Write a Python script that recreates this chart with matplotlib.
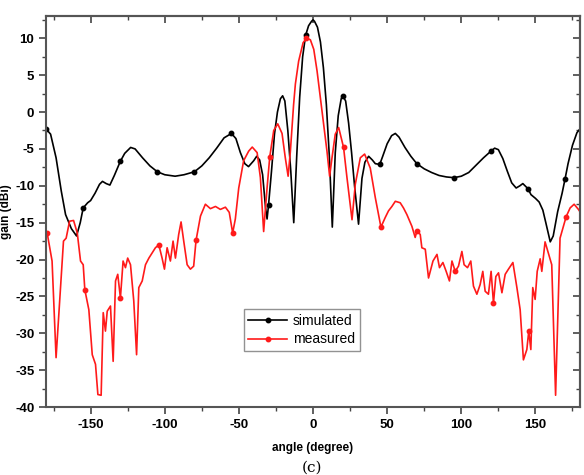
import numpy as np
import matplotlib
matplotlib.use('Agg')
import matplotlib.pyplot as plt
from matplotlib.ticker import MultipleLocator

plt.rcParams['font.family'] = ['Liberation Sans', 'DejaVu Sans']
plt.rcParams['axes.unicode_minus'] = False

# simulated gain pattern (degree, dBi)
sim_angle = [-180, -177, -173.3, -169.8, -166.9, -163, -159.5, -157, -155, -152,
             -150, -147, -144, -142, -139.5, -137, -134, -130, -127, -123,
             -120, -115, -110, -105, -100, -93, -87, -80, -75, -70,
             -65, -60, -55, -52, -49, -46, -43.5, -40, -38, -36,
             -34, -32, -31, -30, -28, -26, -24, -22, -20.5, -19,
             -17, -15, -13, -11, -9, -7, -5, -3, -1, 0,
             1, 3, 5, 7, 9, 11, 13, 15, 17, 19,
             20, 22, 24, 26, 28, 30.7, 33, 35, 37.5, 40,
             42, 45, 47, 50, 53, 55.5, 58, 62, 66, 70,
             75, 80, 85, 90, 95, 100, 105, 110, 115, 120,
             122.5, 125, 128, 131, 134, 137, 139.5, 141.5, 145, 147,
             150, 152.5, 155, 157, 160, 162, 165, 168, 170, 172,
             175, 178, 180]
sim_gain = [-2.3, -3.0, -6.2, -10.7, -13.9, -15.8, -16.8, -15.0, -13.0, -12.3,
            -12.0, -11.0, -9.8, -9.4, -9.7, -9.9, -8.6, -6.7, -5.6, -4.8,
            -5.0, -6.2, -7.3, -8.1, -8.5, -8.7, -8.5, -8.1, -7.3, -6.2,
            -4.9, -3.5, -2.9, -3.6, -5.5, -7.0, -7.4, -6.6, -6.0, -6.5,
            -8.5, -13.0, -14.5, -12.6, -8.0, -3.0, 0.0, 1.8, 2.2, 1.5,
            -2.5, -8.0, -15.0, -6.0, 2.0, 7.5, 10.4, 11.7, 12.3, 12.5,
            12.3, 11.5, 9.5, 6.0, 1.0, -6.0, -15.6, -5.5, -0.5, 1.8,
            2.2, 1.5, -1.5, -5.5, -10.0, -15.2, -9.0, -6.8, -6.0, -6.5,
            -7.0, -7.1, -6.0, -4.3, -3.2, -2.9, -3.4, -4.8, -6.0, -7.0,
            -7.7, -8.2, -8.6, -8.8, -8.9, -8.7, -8.2, -7.2, -6.2, -5.3,
            -4.9, -5.1, -6.3, -8.0, -9.6, -10.3, -10.0, -9.7, -10.4, -11.2,
            -11.7, -12.2, -13.3, -15.0, -17.6, -16.8, -13.5, -11.0, -9.05, -7.0,
            -4.5, -2.8, -2.3]

# measured gain pattern (degree, dBi)
meas_angle = [-180, -179.3, -176, -173.3, -171, -168.3, -166.5, -164.2, -161.5, -159,
              -156.8, -155, -153.9, -151.2, -148.9, -146.7, -145.1, -142.9, -141.5, -140,
              -138.8, -136.6, -134.8, -133.2, -131.7, -129.9, -128.1, -126.5, -125, -123.1,
              -120.9, -119, -117.5, -115.2, -113, -110.7, -108.5, -106.3, -104, -101.8,
              -100.2, -98.4, -96.2, -94.4, -92.8, -90.6, -89, -87.2, -84.9, -82.7,
              -80.5, -78.9, -75.9, -72.6, -69.2, -65.8, -62.5, -59.1, -56.5, -54.2,
              -52.4, -50.1, -46.8, -43.4, -41, -37.7, -35.5, -33.3, -31, -29.2,
              -26.5, -23.8, -20.9, -18.7, -16.8, -15.3, -13.1, -11.9, -9.7, -6.7,
              -4.5, -1.8, 0.5, 2.7, 6.1, 9.4, 11.2, 12.8, 15, 17.3,
              20.6, 22.9, 26.3, 28.5, 31.9, 34.8, 38.6, 42, 45.8, 48.7,
              50.9, 53.2, 55.5, 58.8, 61, 63.3, 66.7, 68.9, 70.1, 72.3,
              73.4, 75.7, 77.9, 80.9, 83.6, 85.3, 87.6, 89.8, 92, 93.7,
              95.9, 98.1, 100.4, 101.9, 104.2, 106.4, 108.2, 110.5, 112.7, 114.5,
              116.1, 118.3, 120.1, 121.7, 123.3, 125.1, 127.4, 129.6, 131.8, 134.8,
              137.5, 139.7, 141.9, 144.2, 145.5, 146.9, 148.2, 149.8, 151.2, 153.2,
              154.3, 156.5, 161, 163.6, 166.6, 170.7, 173.4, 176.1, 179, 180]
meas_gain = [-16.2, -16.4, -20.2, -33.3, -26.0, -17.5, -17.1, -14.8, -14.7, -16.4,
             -20.2, -20.7, -24.1, -26.8, -32.9, -34.2, -38.3, -38.4, -27.2, -29.7,
             -27.0, -26.3, -33.8, -22.9, -22.0, -25.2, -20.2, -21.1, -19.8, -20.7,
             -25.6, -32.9, -23.8, -22.9, -20.7, -19.8, -19.1, -18.4, -18.0, -19.8,
             -21.3, -18.4, -20.2, -17.5, -19.8, -16.6, -14.9, -17.5, -20.7, -21.3,
             -20.9, -17.4, -14.1, -12.5, -13.1, -12.8, -13.2, -12.9, -13.6, -16.4,
             -14.5, -10.3, -6.6, -5.3, -4.75, -5.5, -8.9, -16.2, -10.3, -6.1,
             -2.5, -1.6, -2.9, -6.2, -8.7, -5.4, 1.0, 3.8, 6.9, 9.4,
             10.0, 9.8, 8.5, 5.6, 0.1, -5.3, -8.7, -6.2, -3.0, -2.1,
             -4.8, -8.9, -14.6, -9.8, -6.2, -5.7, -7.6, -11.6, -15.6, -14.3,
             -13.4, -12.8, -12.1, -12.3, -13.0, -13.9, -15.5, -17.0, -16.1, -16.6,
             -18.4, -18.6, -22.5, -20.2, -19.3, -21.1, -20.4, -21.6, -22.9, -20.2,
             -21.6, -20.9, -18.9, -20.7, -21.1, -20.2, -23.6, -24.7, -23.4, -21.6,
             -24.3, -24.7, -21.6, -25.9, -22.3, -21.8, -24.5, -22.0, -21.3, -20.4,
             -23.8, -26.8, -33.6, -32.2, -29.7, -32.2, -23.8, -25.4, -21.6, -19.9,
             -21.6, -17.6, -20.7, -38.4, -17.1, -14.2, -13.0, -12.5, -13.2, -13.5]

sim_angle = np.array(sim_angle)
meas_angle = np.array(meas_angle)

# markers every 25 degrees, like the original plotting software
sim_marks = [i for i, a in enumerate(sim_angle) if (a + 180) % 25 == 0]
meas_marks = sorted({int(np.argmin(abs(meas_angle - t))) for t in np.arange(-179, 180, 25)})

fig = plt.figure(figsize=(5.84, 4.75), dpi=100)
ax = fig.add_axes([0.079, 0.143, 0.914, 0.823])

ax.plot(sim_angle, sim_gain, color='black', lw=1.2, marker='o', ms=3.2,
        markevery=sim_marks, label='simulated')
ax.plot(meas_angle, meas_gain, color='#ff1a1a', lw=1.2, marker='o', ms=3.2,
        markevery=meas_marks, label='measured')

ax.set_xlim(-180, 180)
ax.set_ylim(-40, 13)
ax.xaxis.set_major_locator(MultipleLocator(50))
ax.xaxis.set_minor_locator(MultipleLocator(25))
ax.yaxis.set_major_locator(MultipleLocator(5))
ax.yaxis.set_minor_locator(MultipleLocator(2.5))
ax.tick_params(which='major', direction='out', length=5, width=1.2,
               labelsize=9.5, color='#444444')
ax.tick_params(which='minor', direction='out', length=3, width=1.0, color='#444444')
for lab in ax.get_xticklabels() + ax.get_yticklabels():
    lab.set_fontweight('bold')

# mirrored ticks on top and right, pointing inward, no labels
top = ax.secondary_xaxis('top')
top.xaxis.set_major_locator(MultipleLocator(50))
top.xaxis.set_minor_locator(MultipleLocator(25))
top.tick_params(which='major', direction='in', length=5, width=1.2, labeltop=False, color='#444444')
top.tick_params(which='minor', direction='in', length=3, width=1.0, color='#444444')
right = ax.secondary_yaxis('right')
right.yaxis.set_major_locator(MultipleLocator(5))
right.yaxis.set_minor_locator(MultipleLocator(2.5))
right.tick_params(which='major', direction='in', length=5, width=1.2, labelright=False, color='#444444')
right.tick_params(which='minor', direction='in', length=3, width=1.0, color='#444444')

for sp in list(ax.spines.values()) + [top.spines['top'], right.spines['right']]:
    sp.set_linewidth(1.5)
    sp.set_color('#555555')

ax.set_xlabel('angle (degree)', fontsize=8.5, fontweight='bold', labelpad=8)
ax.set_ylabel('gain (dBi)', fontsize=8.5, fontweight='bold', labelpad=2)

leg = ax.legend(loc='lower left', bbox_to_anchor=(0.357, 0.125), fontsize=10,
                frameon=True, fancybox=False, handlelength=2.8,
                borderpad=0.35, labelspacing=0.3, handletextpad=0.4)
leg.get_frame().set_edgecolor('#777777')
leg.get_frame().set_linewidth(1.0)

fig.text(0.535, 0.008, '(c)', fontsize=11, family='DejaVu Serif', ha='center')

fig.savefig('out.png', dpi=100)
